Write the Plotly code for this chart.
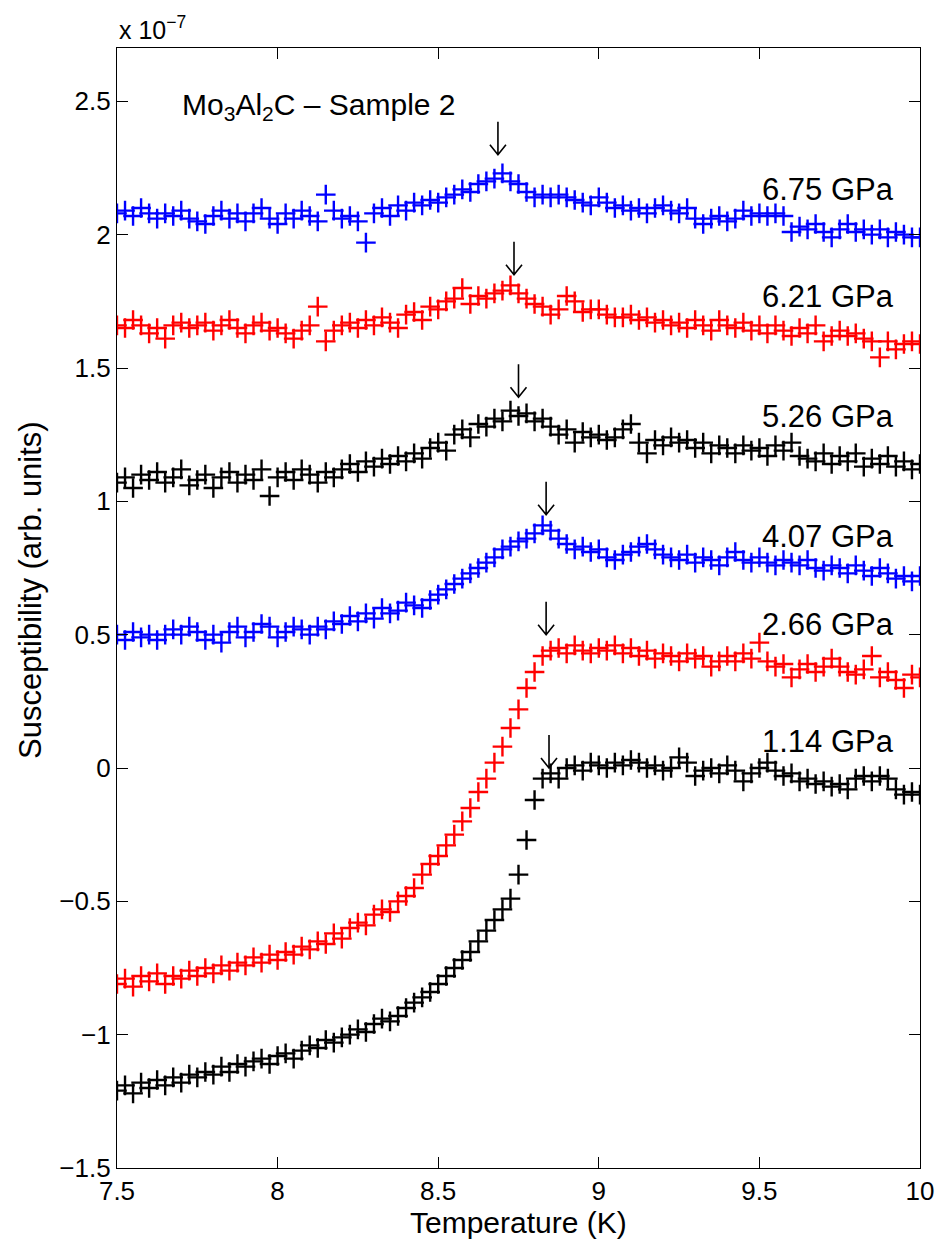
import plotly.graph_objects as go

# Temperature grid (K), shared by every pressure run
temperature = [
    7.500, 7.525, 7.550, 7.575, 7.600, 7.625, 7.650, 7.675, 7.700, 7.725,
    7.750, 7.775, 7.800, 7.825, 7.850, 7.875, 7.900, 7.925, 7.950, 7.975,
    8.000, 8.025, 8.050, 8.075, 8.100, 8.125, 8.150, 8.175, 8.200, 8.225,
    8.250, 8.275, 8.300, 8.325, 8.350, 8.375, 8.400, 8.425, 8.450, 8.475,
    8.500, 8.525, 8.550, 8.575, 8.600, 8.625, 8.650, 8.675, 8.700, 8.725,
    8.750, 8.775, 8.800, 8.825, 8.850, 8.875, 8.900, 8.925, 8.950, 8.975,
    9.000, 9.025, 9.050, 9.075, 9.100, 9.125, 9.150, 9.175, 9.200, 9.225,
    9.250, 9.275, 9.300, 9.325, 9.350, 9.375, 9.400, 9.425, 9.450, 9.475,
    9.500, 9.525, 9.550, 9.575, 9.600, 9.625, 9.650, 9.675, 9.700, 9.725,
    9.750, 9.775, 9.800, 9.825, 9.850, 9.875, 9.900, 9.925, 9.950, 9.975,
    10.000,
]

# Susceptibility in units of 1e-7 (curves offset vertically for clarity)
chi_675 = [
    2.08, 2.09, 2.07, 2.10, 2.08, 2.06, 2.08, 2.07, 2.09, 2.06,
    2.05, 2.04, 2.07, 2.09, 2.06, 2.08, 2.05, 2.08, 2.10, 2.06,
    2.04, 2.08, 2.06, 2.09, 2.07, 2.05, 2.15, 2.09, 2.06, 2.07,
    2.05, 1.97, 2.08, 2.10, 2.07, 2.11, 2.09, 2.12, 2.11, 2.13,
    2.12, 2.14, 2.15, 2.17, 2.16, 2.19, 2.20, 2.21, 2.23, 2.20,
    2.19, 2.16, 2.14, 2.15, 2.14, 2.15, 2.14, 2.13, 2.12, 2.11,
    2.14, 2.12, 2.10, 2.11, 2.09, 2.10, 2.08, 2.10, 2.11, 2.09,
    2.08, 2.10, 2.06, 2.04, 2.06, 2.07, 2.05, 2.06, 2.09, 2.07,
    2.08, 2.07, 2.08, 2.07, 2.01, 2.03, 2.02, 2.04, 2.01, 1.99,
    2.02, 2.04, 2.01, 2.02, 2.00, 2.02, 1.99, 2.01, 2.00, 1.99,
    1.99,
]
chi_621 = [
    1.66, 1.65, 1.68, 1.66, 1.63, 1.65, 1.61, 1.66, 1.67, 1.65,
    1.66, 1.67, 1.64, 1.66, 1.68, 1.65, 1.63, 1.66, 1.67, 1.64,
    1.65, 1.63, 1.61, 1.64, 1.66, 1.73, 1.60, 1.64, 1.66, 1.67,
    1.65, 1.68, 1.66, 1.69, 1.67, 1.65, 1.70, 1.71, 1.68, 1.73,
    1.72, 1.75, 1.76, 1.80, 1.74, 1.77, 1.76, 1.78, 1.79, 1.81,
    1.78, 1.76, 1.74, 1.73, 1.70, 1.72, 1.77, 1.75, 1.71, 1.72,
    1.72, 1.70, 1.69, 1.69, 1.70, 1.68, 1.69, 1.67, 1.68, 1.66,
    1.67, 1.65, 1.68, 1.66, 1.64, 1.68, 1.66, 1.65, 1.67, 1.64,
    1.66, 1.63, 1.66, 1.64, 1.62, 1.65, 1.63, 1.66, 1.60, 1.62,
    1.64, 1.62, 1.63, 1.61, 1.60, 1.54, 1.60, 1.57, 1.59, 1.60,
    1.59,
]
chi_526 = [
    1.07, 1.09, 1.05, 1.10, 1.08, 1.11, 1.07, 1.09, 1.12, 1.06,
    1.08, 1.10, 1.05, 1.09, 1.11, 1.07, 1.10, 1.08, 1.12, 1.02,
    1.09, 1.11, 1.08, 1.12, 1.10, 1.07, 1.11, 1.09, 1.12, 1.14,
    1.11, 1.15, 1.13, 1.16, 1.14, 1.17, 1.15, 1.18, 1.16, 1.20,
    1.22, 1.19, 1.25, 1.27, 1.24, 1.29, 1.28, 1.31, 1.30, 1.34,
    1.32, 1.33, 1.30, 1.31, 1.28, 1.25, 1.27, 1.22, 1.26, 1.24,
    1.25, 1.23, 1.24, 1.27, 1.29, 1.22, 1.18, 1.23, 1.21, 1.24,
    1.22, 1.23, 1.20, 1.22, 1.18, 1.21, 1.20, 1.18, 1.21, 1.19,
    1.20, 1.17, 1.21, 1.19, 1.22, 1.17, 1.16, 1.15, 1.18, 1.14,
    1.17, 1.15, 1.18, 1.13, 1.16, 1.14, 1.17, 1.13, 1.15, 1.12,
    1.14,
]
chi_407 = [
    0.50, 0.48, 0.51, 0.49, 0.50, 0.48, 0.50, 0.52, 0.50, 0.53,
    0.51, 0.48, 0.50, 0.47, 0.51, 0.53, 0.49, 0.51, 0.54, 0.53,
    0.49, 0.51, 0.53, 0.52, 0.50, 0.53, 0.52, 0.55, 0.54, 0.57,
    0.55, 0.58, 0.56, 0.60, 0.58, 0.59, 0.62, 0.61, 0.60, 0.63,
    0.65, 0.67, 0.69, 0.71, 0.73, 0.75, 0.77, 0.79, 0.82, 0.83,
    0.85, 0.86, 0.88, 0.91, 0.89, 0.86, 0.84, 0.82, 0.83, 0.81,
    0.82, 0.79, 0.78, 0.80, 0.81, 0.83, 0.84, 0.82, 0.80, 0.79,
    0.78, 0.80, 0.77, 0.79, 0.78, 0.76, 0.79, 0.81, 0.78, 0.77,
    0.79, 0.77, 0.76, 0.78, 0.77, 0.76, 0.78, 0.75, 0.74, 0.76,
    0.75, 0.73, 0.76, 0.74, 0.72, 0.75, 0.73, 0.71, 0.72, 0.70,
    0.72,
]
chi_266 = [
    -0.81, -0.79, -0.82, -0.78, -0.80, -0.77, -0.81, -0.78, -0.79, -0.76,
    -0.78, -0.75, -0.77, -0.74, -0.76, -0.73, -0.74, -0.71, -0.73, -0.70,
    -0.72, -0.69, -0.70, -0.67, -0.68, -0.65, -0.66, -0.62, -0.64, -0.60,
    -0.58, -0.59, -0.55, -0.53, -0.54, -0.50, -0.48, -0.45, -0.40, -0.36,
    -0.33, -0.29, -0.25, -0.20, -0.15, -0.09, -0.04, 0.02, 0.08, 0.15,
    0.22, 0.30, 0.36, 0.42, 0.44, 0.45, 0.43, 0.46, 0.44, 0.43,
    0.45, 0.44, 0.46, 0.43, 0.45, 0.42, 0.44, 0.41, 0.43, 0.42,
    0.40, 0.43, 0.41, 0.42, 0.38, 0.40, 0.42, 0.40, 0.43, 0.41,
    0.47, 0.40, 0.38, 0.39, 0.34, 0.37, 0.39, 0.36, 0.38, 0.41,
    0.38, 0.36, 0.35, 0.37, 0.42, 0.34, 0.36, 0.33, 0.30, 0.35,
    0.34,
]
chi_114 = [
    -1.21, -1.19, -1.22, -1.18, -1.20, -1.17, -1.19, -1.16, -1.18, -1.15,
    -1.16, -1.14, -1.15, -1.12, -1.14, -1.11, -1.12, -1.10, -1.09, -1.11,
    -1.08, -1.07, -1.09, -1.06, -1.04, -1.05, -1.02, -1.03, -1.01, -1.00,
    -0.98, -0.99, -0.96, -0.94, -0.95, -0.93, -0.90, -0.88, -0.86, -0.84,
    -0.81, -0.78, -0.75, -0.72, -0.69, -0.65, -0.61, -0.57, -0.53, -0.49,
    -0.40, -0.27, -0.12, -0.04, -0.02, -0.04, 0.00, 0.01, -0.01, 0.02,
    0.01, 0.00, 0.02, 0.01, 0.03, 0.02, 0.00, 0.01, -0.01, 0.00,
    0.04, 0.02, -0.03, -0.01, 0.00, -0.02, 0.01, -0.01, -0.05, -0.02,
    0.00, 0.02, -0.01, -0.03, -0.02, -0.05, -0.04, -0.06, -0.05, -0.07,
    -0.06, -0.08, -0.04, -0.03, -0.05, -0.03, -0.04, -0.08, -0.10, -0.09,
    -0.10,
]

pressure_labels = ["6.75 GPa", "6.21 GPa", "5.26 GPa", "4.07 GPa", "2.66 GPa", "1.14 GPa"]
series = [chi_675, chi_621, chi_526, chi_407, chi_266, chi_114]
colors = ["#0000ff", "#ff0000", "#000000", "#0000ff", "#ff0000", "#000000"]

# Label anchor heights (same units as the curves) for the pressure tags
label_y = [2.17, 1.77, 1.32, 0.87, 0.54, 0.10]

# Transition temperatures Tc (K) and the arrow-tip height above each curve
tc_temps = [8.686, 8.736, 8.750, 8.836, 8.836, 8.845]
arrow_tips = [2.30, 1.85, 1.39, 0.95, 0.50, 0.00]

FONT = "Liberation Sans, Arial, Helvetica, sans-serif"

fig = go.Figure()

for chi, col in zip(series, colors):
    fig.add_trace(go.Scatter(
        x=temperature, y=chi, mode="markers",
        marker=dict(symbol="cross-thin", size=14, color=col,
                    line=dict(color=col, width=2.4)),
        showlegend=False, hoverinfo="skip",
    ))

annotations = []
for lab, ly in zip(pressure_labels, label_y):
    annotations.append(dict(
        x=9.715, y=ly, xref="x", yref="y", text=lab, showarrow=False,
        xanchor="center", yanchor="middle",
        font=dict(family=FONT, size=31, color="black"),
    ))

annotations.append(dict(
    x=7.695, y=2.48, xref="x", yref="y",
    text="Mo<sub>3</sub>Al<sub>2</sub>C \u2013 Sample 2", showarrow=False,
    xanchor="left", yanchor="middle",
    font=dict(family=FONT, size=30, color="black"),
))

annotations.append(dict(
    x=0, y=1, xref="paper", yref="paper", xanchor="left", yanchor="bottom",
    yshift=2, text="x 10<sup>\u22127</sup>", showarrow=False,
    font=dict(family=FONT, size=25, color="black"),
))

# Axis titles placed as paper-anchored text
annotations.append(dict(
    x=0.5, y=0, xref="paper", yref="paper", xanchor="center", yanchor="middle",
    yshift=-54, text="Temperature (K)", showarrow=False,
    font=dict(family=FONT, size=30, color="black"),
))
annotations.append(dict(
    x=0, y=0.5, xref="paper", yref="paper", xanchor="center", yanchor="middle",
    xshift=-87, yshift=18, textangle=-90, text="Susceptibility (arb. units)",
    showarrow=False, font=dict(family=FONT, size=31, color="black"),
))

# Down arrows marking Tc: shaft plus open V head, sized in pixels
shapes = []
for tc, tip in zip(tc_temps, arrow_tips):
    shapes.append(dict(
        type="path", xref="x", yref="y",
        xsizemode="pixel", ysizemode="pixel",
        xanchor=tc, yanchor=tip,
        path="M0,0 L0,33 M-8,10 L0,0 L8,10",
        line=dict(color="black", width=1.6),
    ))

axis_common = dict(
    showline=True, linecolor="black", linewidth=1.3, mirror="allticks",
    ticks="inside", ticklen=11, tickwidth=1, tickcolor="black",
    showgrid=False, zeroline=False, automargin=False,
    tickfont=dict(family=FONT, size=26, color="black"),
)

fig.update_layout(
    width=939, height=1245,
    margin=dict(l=117, r=19, t=48, b=77),
    paper_bgcolor="white", plot_bgcolor="white",
    xaxis=dict(range=[7.5, 10], tick0=7.5, dtick=0.5, **axis_common),
    yaxis=dict(range=[-1.5, 2.7], tick0=-1.5, dtick=0.5, **axis_common),
    annotations=annotations,
    shapes=shapes,
)

fig.write_html("out.html")
